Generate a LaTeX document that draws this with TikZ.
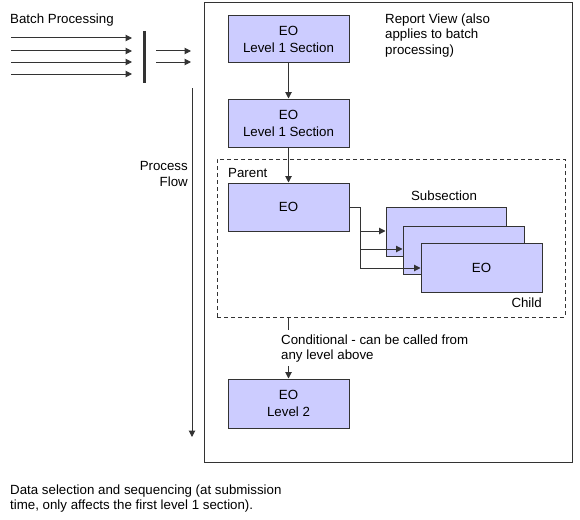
\documentclass[tikz,border=0pt]{standalone}
\usepackage{fontspec}
\setmainfont{Liberation Sans}
\usetikzlibrary{arrows.meta}
\definecolor{boxfill}{HTML}{CCCCFF}
\definecolor{ink}{HTML}{333333}
\tikzset{
  eobox/.style={draw=ink, line width=1pt, fill=boxfill, minimum width=121pt, inner sep=0pt, align=center, font=\fontsize{13.3}{17}\selectfont},
  lbl/.style={inner sep=0pt, font=\fontsize{13.3}{15}\selectfont, text=black},
  conn/.style={draw=ink, line width=1pt, -{Triangle[length=6.5pt,width=6.5pt]}},
  plain/.style={draw=ink, line width=1pt},
}
\begin{document}
\begin{tikzpicture}[x=1pt,y=-1pt]
\useasboundingbox (0,0) rectangle (580,519);
% main frame
\draw[plain] (204,3) rectangle (572,462);
\node[draw=ink, line width=1pt, dash pattern=on 4pt off 3pt, minimum width=348pt, minimum height=158pt, inner sep=0pt] (grp) at (391,238) {};
% batch processing
\node[lbl, anchor=base west] (batch) at (10,24) {Batch Processing};
\foreach \y [count=\i] in {38,51,62,74} {
  \coordinate (bs\i) at (11,\y);
  \coordinate (be\i) at (132,\y);
  \draw[conn] (bs\i) -- (be\i);
}
\coordinate (bart) at (144,31);
\coordinate (barb) at (144,83);
\draw[draw=ink, line width=3pt] (bart) -- (barb);
\foreach \y [count=\i] in {51,62} {
  \coordinate (os\i) at (156,\y);
  \coordinate (oe\i) at (191,\y);
  \draw[conn] (os\i) -- (oe\i);
}
% process flow
\coordinate (pft) at (192,88);
\coordinate (pfb) at (192,437);
\draw[conn] (pft) -- (pfb);
\node[lbl, anchor=base east, align=right, font=\fontsize{13.3}{16}\selectfont] (pf) at (188,186) {Process\\Flow};
% report view
\node[lbl, anchor=base west, align=left] (rv) at (385,54) {Report View (also\\applies to batch\\processing)};
% boxes
\node[eobox, minimum height=46pt] (l1a) at (288.5,39) {EO\\Level 1 Section};
\node[eobox, minimum height=48pt] (l1b) at (288.5,123) {EO\\Level 1 Section};
\node[lbl, anchor=base west] (par) at (228,177) {Parent};
\node[eobox, minimum height=48pt] (peo) at (288.5,207) {EO};
\node[eobox, minimum width=120pt, minimum height=49pt] (sa) at (446,231.5) {};
\node[eobox, minimum height=48pt] (sb) at (463.5,250) {};
\node[eobox, minimum height=49pt] (sc) at (481.5,267.5) {EO};
\node[lbl, anchor=base] (sub) at (444,200) {Subsection};
\node[lbl, anchor=base east] (child) at (542,307) {Child};
\node[eobox, minimum height=49pt] (l2) at (288.5,403.5) {EO\\Level 2};
% connectors
\draw[conn] (l1a) -- (l1b);
\draw[conn] (l1b) -- (peo);
\coordinate (pj) at (360,207);
\draw[plain] (peo.east |- pj) -- (pj) -- (360,268);
\draw[conn] (360,231) -- (sa.west |- 0,231);
\draw[conn] (360,249) -- (sb.west |- 0,249);
\draw[conn] (360,268) -- (sc.west |- 0,268);
% conditional
\node[lbl, anchor=base west, align=left] (cond) at (281,359) {Conditional - can be called from\\any level above};
\draw[plain] (grp.south -| l2.north) -- (288.5,330);
\draw[conn] (288.5,366) -- (l2.north);
% bottom text
\node[lbl, anchor=base west, align=left] (note) at (10,509) {Data selection and sequencing (at submission\\time, only affects the first level 1 section).};
\end{tikzpicture}
\end{document}
